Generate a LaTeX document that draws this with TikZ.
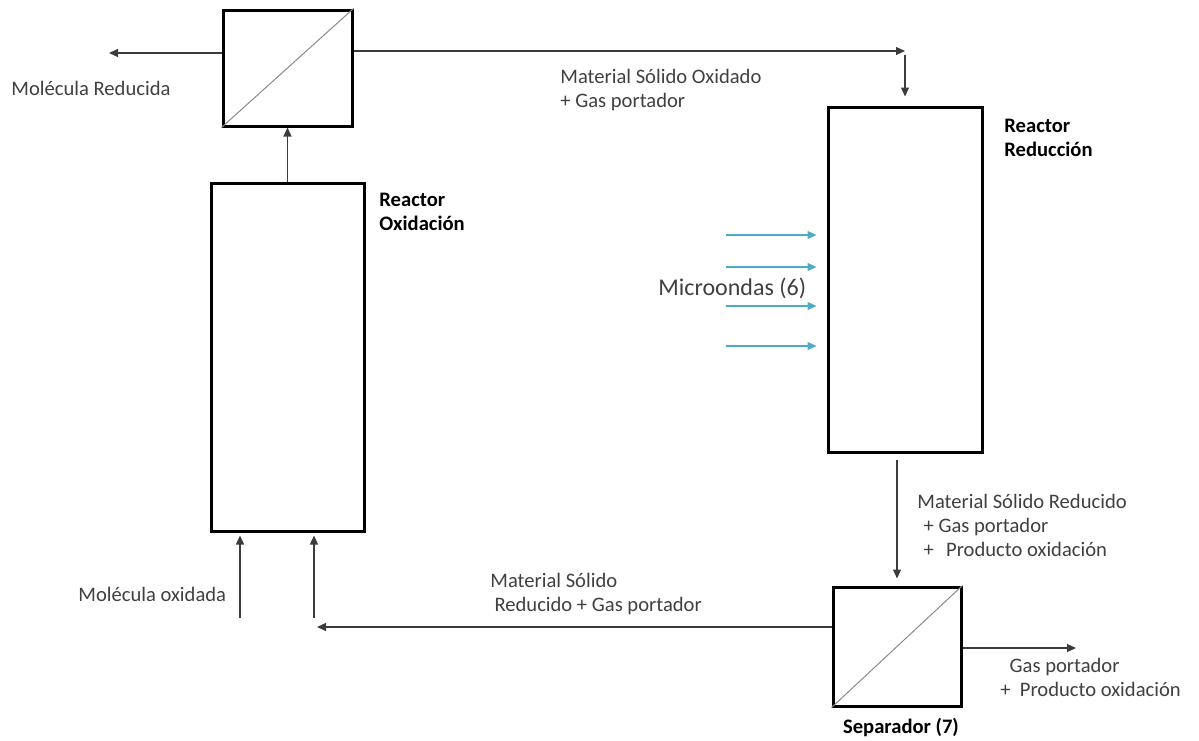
\documentclass[tikz,border=0pt]{standalone}
\usepackage{fontspec}
\setmainfont{Carlito}
\usepackage{tikz}
\usepackage{xcolor}
\usetikzlibrary{arrows.meta,calc,positioning}
\definecolor{LineGrey}{HTML}{3C3C3C}
\definecolor{TextGrey}{HTML}{404040}
\definecolor{DivGrey}{HTML}{8A8A8A}
\definecolor{WaveBlue}{HTML}{4BACC6}

\begin{document}
\begin{tikzpicture}[x=0.5pt, y=-0.5pt,
    >={Triangle[length=4.5pt,width=4pt]},
    unit/.style={draw=black, line width=1.5pt, fill=white, inner sep=0pt},
    flow/.style={->, line width=0.6pt, LineGrey},
    wave/.style={->, line width=0.6pt, WaveBlue},
    divider/.style={line width=0.5pt, DivGrey},
    lbl/.style={font=\fontsize{10.3}{12}\selectfont, TextGrey, align=left, inner sep=0pt},
    tag/.style={font=\fontsize{10.3}{12}\selectfont\bfseries, black, align=left, inner sep=0pt}]
    \useasboundingbox (0,0) rectangle (1199,740);

    % Separators
    \node[unit, minimum width=64.5pt, minimum height=58pt] (sepA) at (287.5,68) {};
    \draw[divider] (sepA.south west) -- (sepA.north east);
    \node[unit, minimum width=64pt, minimum height=59.5pt] (sepB) at (897,646.5) {};
    \draw[divider] (sepB.south west) -- (sepB.north east);
    \node[tag, anchor=base] (sepBtag) at (901,733) {Separador (7)};

    % Reactors
    \node[unit, minimum width=76.5pt, minimum height=174pt] (oxBox) at (287.5,357) {};
    \node[tag, anchor=west] (oxTag) at (379,212) {Reactor\\Oxidación};
    \node[unit, minimum width=77pt, minimum height=172.5pt] (redBox) at (905,279.5) {};
    \node[tag, anchor=west] (redTag) at (1004,138) {Reactor\\Reducción};

    % Free ends
    \coordinate (outA) at (109,53);
    \coordinate (turnA) at (905,51);
    \coordinate (inOxA) at (240,618);
    \coordinate (inOxB) at (314,618);
    \coordinate (retEnd) at (317,627);
    \coordinate (outB) at (1076,648);

    % Top loop
    \draw[flow] (oxBox.north) -- (sepA.south);
    \draw[flow] (sepA.west |- outA) -- (outA);
    \node[lbl, anchor=west] (outAtag) at (11,88) {Molécula Reducida};
    \draw[flow] (sepA.east |- turnA) -- (turnA);
    \draw[flow] ($(turnA)+(0,4)$) -- ($(redBox.north)+(0,-9)$);
    \node[lbl, anchor=west] (topTag) at (560,90) {Material Sólido Oxidado\\+ Gas portador};

    % Microwaves
    \foreach \y in {235,267,306,346}
        \draw[wave] ($(redBox.west |- 0,\y)+(-101,0)$) -- ($(redBox.west |- 0,\y)+(-10,0)$);
    \node[font=\fontsize{12}{14}\selectfont, TextGrey, inner sep=0pt, anchor=west] (mwTag) at (658,288) {Microondas (6)};

    % Bottom loop
    \draw[flow] ($(sepB.north |- redBox.south)+(0,6)$) -- ($(sepB.north)+(0,-7)$);
    \node[lbl, anchor=west] (midTag) at (917,525) {Material Sólido Reducido\\\hspace{0.3em}+ Gas portador\\\hspace{0.3em}+\hspace{0.6em}Producto oxidación};
    \draw[flow] (sepB.east |- outB) -- (outB);
    \node[lbl, anchor=west] (outBtag) at (1000,677) {\hspace{0.45em}Gas portador\\+\hspace{0.45em}Producto oxidación};
    \draw[flow] (sepB.west |- retEnd) -- (retEnd);
    \node[lbl, anchor=west] (retTag) at (490,594) {Material Sólido\\\hspace{0.2em}Reducido + Gas portador};

    % Feeds into oxidation reactor
    \draw[flow] (inOxA) -- ($(inOxA |- oxBox.south)+(0,3)$);
    \draw[flow] (inOxB) -- ($(inOxB |- oxBox.south)+(0,3)$);
    \node[lbl, anchor=west] (feedTag) at (78,594) {Molécula oxidada};
\end{tikzpicture}
\end{document}
